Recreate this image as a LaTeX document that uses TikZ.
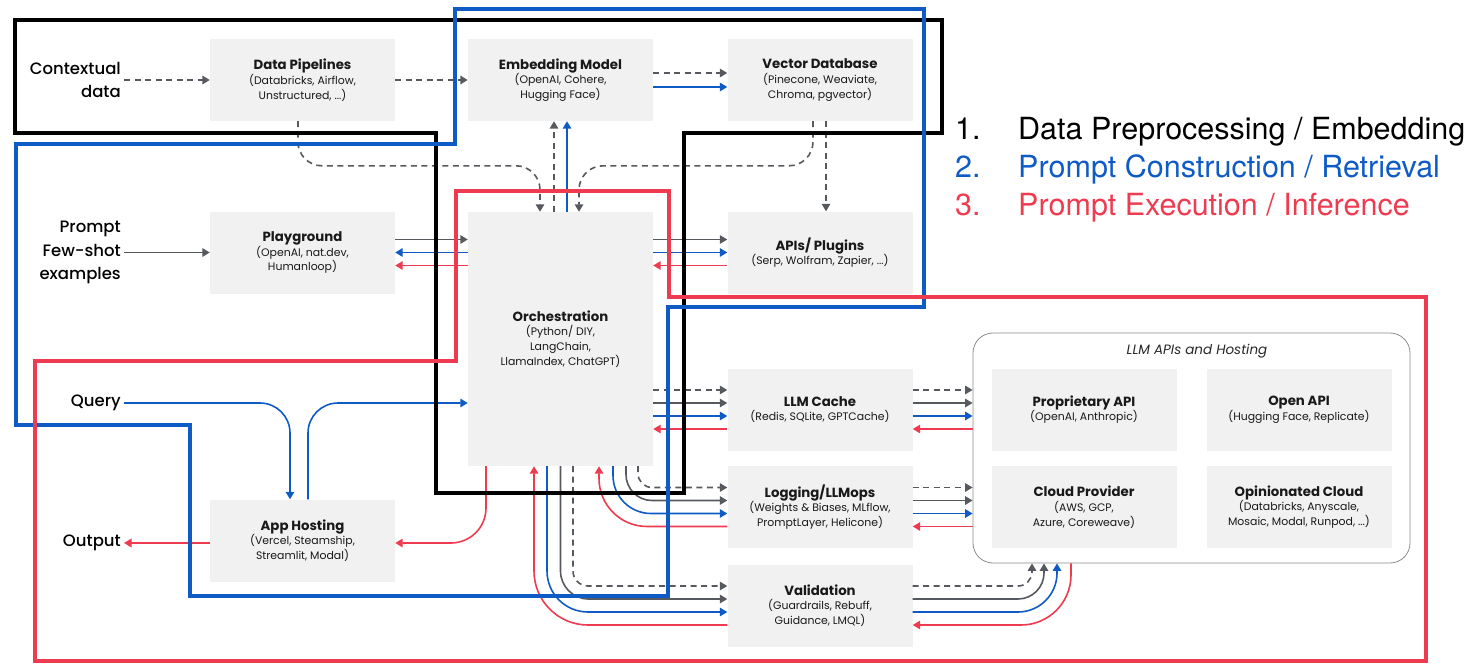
\documentclass[tikz,border=0pt]{standalone}
\usepackage{fontspec}
\setmainfont{Poppins}
\newfontfamily\sidefont{Poppins}[UprightFont=* Medium]
\newfontfamily\legendfont{TeX Gyre Heros}
\usetikzlibrary{arrows.meta}

\definecolor{boxgray}{HTML}{F1F1F1}
\definecolor{linegray}{HTML}{56595E}
\definecolor{stageblue}{HTML}{0F5BC6}
\definecolor{stagered}{HTML}{EF3B50}
\definecolor{framegray}{HTML}{8C8C8C}

\newcommand{\tname}[1]{{\fontsize{13.3}{14.5}\selectfont\bfseries #1}}

\tikzset{
  tool/.style={fill=boxgray, minimum width=185pt, minimum height=82pt, align=center, inner sep=0pt,
    text=black!90, font=\fontsize{10.9}{14.8}\selectfont},
  side/.style={font=\sidefont\fontsize{16.5}{23.5}\selectfont, align=right, anchor=east, inner sep=3pt},
  fwd/.style={-{Triangle[length=7.5pt,width=8.5pt]}},
  bwd/.style={{Triangle[length=7.5pt,width=8.5pt]}-},
  gline/.style={draw=linegray, line width=1.6pt},
  dline/.style={gline, dash pattern=on 6pt off 4.5pt},
  bline/.style={draw=stageblue, line width=1.6pt},
  rline/.style={draw=stagered, line width=1.6pt},
  stage/.style={line width=3.3pt},
  legend/.style={font=\legendfont\fontsize{30.5}{36}\selectfont, anchor=base west, inner sep=0pt},
}

\begin{document}
\begin{tikzpicture}[x=1pt, y=-1pt]
    \useasboundingbox (0,0) rectangle (1472,666);

    % tools
    \node[tool] (pipe) at (302.5,80) {\tname{Data Pipelines}\\(Databricks, Airflow,\\Unstructured, ...)};
    \node[tool] (emb) at (560.5,80) {\tname{Embedding Model}\\(OpenAI, Cohere,\\Hugging Face)};
    \node[tool] (vec) at (820,80) {\tname{Vector Database}\\(Pinecone, Weaviate,\\Chroma, pgvector)};
    \node[tool] (play) at (302.5,252.5) {\tname{Playground}\\(OpenAI, nat.dev,\\Humanloop)};
    \node[tool, minimum height=254pt] (orch) at (560.5,339) {\tname{Orchestration}\\(Python/ DIY,\\LangChain,\\LlamaIndex, ChatGPT)};
    \node[tool] (api) at (820,252.5) {\tname{APIs/ Plugins}\\(Serp, Wolfram, Zapier, ...)};
    \node[tool] (cache) at (820,409.5) {\tname{LLM Cache}\\(Redis, SQLite, GPTCache)};
    \node[tool] (log) at (820,507) {\tname{Logging/LLMops}\\(Weights \& Biases, MLflow,\\PromptLayer, Helicone)};
    \node[tool] (val) at (820,605.5) {\tname{Validation}\\(Guardrails, Rebuff,\\Guidance, LMQL)};
    \node[tool] (app) at (302.5,540.5) {\tname{App Hosting}\\(Vercel, Steamship,\\Streamlit, Modal)};

    % hosting
    \node[draw=framegray, line width=0.8pt, rounded corners=20pt, minimum width=437pt, minimum height=230pt, inner sep=0pt] (hosting) at (1191.5,448) {};
    \node[font=\fontsize{13.5}{15}\selectfont\itshape, text=black!85] (hostname) at (1197,351) {LLM APIs and Hosting};
    \node[tool] (prop) at (1084,409.5) {\tname{Proprietary API}\\(OpenAI, Anthropic)};
    \node[tool] (open) at (1299,409.5) {\tname{Open API}\\(Hugging Face, Replicate)};
    \node[tool] (cloud) at (1084,507) {\tname{Cloud Provider}\\(AWS, GCP,\\Azure, Coreweave)};
    \node[tool] (opin) at (1299,507) {\tname{Opinionated Cloud}\\(Databricks, Anyscale,\\Mosaic, Modal, Runpod, ...)};

    % inputs and output
    \node[side] (ctx) at (124,80) {Contextual\\data};
    \node[side] (prompt) at (124,252.5) {Prompt\\Few-shot\\examples};
    \node[side] (query) at (124,403) {Query};
    \node[side] (output) at (124,543) {Output};

    % top row
    \draw[dline, fwd] (ctx.east) -- (pipe.west);
    \draw[dline, fwd] (pipe.east) -- (emb.west);
    \draw[dline, fwd] ([yshift=7pt]emb.east) -- ([yshift=7pt]vec.west);
    \draw[bline, fwd] ([yshift=-7pt]emb.east) -- ([yshift=-7pt]vec.west);
    \draw[dline, fwd, rounded corners=24pt] ([xshift=-4.5pt]pipe.south) |- ([xshift=-20.5pt, yshift=46pt]orch.north) -- ([xshift=-20.5pt]orch.north);
    \draw[dline, fwd, rounded corners=24pt] ([xshift=-7pt]vec.south) |- ([xshift=18.5pt, yshift=46pt]orch.north) -- ([xshift=18.5pt]orch.north);
    \draw[dline, fwd] ([xshift=6pt]vec.south) -- ([xshift=6pt]api.north);
    \draw[dline, fwd] ([xshift=-6.5pt]orch.north) -- ([xshift=-6.5pt]emb.south);
    \draw[bline, fwd] ([xshift=6.5pt]orch.north) -- ([xshift=6.5pt]emb.south);

    % playground and plugins
    \draw[gline, fwd] (prompt.east) -- (play.west);
    \draw[gline, fwd] ([yshift=13pt]play.east) -- ([yshift=13pt]play.east -| orch.west);
    \draw[bline, bwd] (play.east) -- (play.east -| orch.west);
    \draw[rline, bwd] ([yshift=-13pt]play.east) -- ([yshift=-13pt]play.east -| orch.west);
    \draw[gline, fwd] ([yshift=13pt]api.west -| orch.east) -- ([yshift=13pt]api.west);
    \draw[bline, fwd] (api.west -| orch.east) -- (api.west);
    \draw[rline, bwd] ([yshift=-13pt]api.west -| orch.east) -- ([yshift=-13pt]api.west);

    % query, app hosting, output
    \draw[bline, fwd, rounded corners=30pt] (query.east) -| ([xshift=-12.5pt]app.north);
    \draw[bline, fwd, rounded corners=30pt] ([xshift=5.5pt]app.north) |- (query.east -| orch.west);
    \draw[rline, fwd, rounded corners=35pt] ([xshift=-74.5pt]orch.south) |- ([yshift=-2.5pt]app.east);
    \draw[rline, fwd] ([yshift=-2.5pt]app.west) -- (output.east);

    % cache
    \draw[dline, fwd] ([yshift=19.5pt]cache.west -| orch.east) -- ([yshift=19.5pt]cache.west);
    \draw[gline, fwd] ([yshift=6.5pt]cache.west -| orch.east) -- ([yshift=6.5pt]cache.west);
    \draw[bline, fwd] ([yshift=-6.5pt]cache.west -| orch.east) -- ([yshift=-6.5pt]cache.west);
    \draw[rline, bwd] ([yshift=-19.5pt]cache.west -| orch.east) -- ([yshift=-19.5pt]cache.west);
    \draw[dline, fwd] ([yshift=19.5pt]cache.east) -- ([yshift=19.5pt]cache.east -| hosting.west);
    \draw[gline, fwd] ([yshift=6.5pt]cache.east) -- ([yshift=6.5pt]cache.east -| hosting.west);
    \draw[bline, fwd] ([yshift=-6.5pt]cache.east) -- ([yshift=-6.5pt]cache.east -| hosting.west);
    \draw[rline, bwd] ([yshift=-19.5pt]cache.east) -- ([yshift=-19.5pt]cache.east -| hosting.west);

    % logging
    \draw[dline, fwd, rounded corners=14pt] ([xshift=77.5pt]orch.south) |- ([yshift=19.5pt]log.west);
    \draw[gline, fwd, rounded corners=26pt] ([xshift=65.5pt]orch.south) |- ([yshift=6.5pt]log.west);
    \draw[bline, fwd, rounded corners=38pt] ([xshift=52.5pt]orch.south) |- ([yshift=-6.5pt]log.west);
    \draw[rline, bwd, rounded corners=48pt] ([xshift=38.5pt]orch.south) |- ([yshift=-19.5pt]log.west);
    \draw[dline, fwd] ([yshift=19.5pt]log.east) -- ([yshift=19.5pt]log.east -| hosting.west);
    \draw[gline, fwd] ([yshift=6.5pt]log.east) -- ([yshift=6.5pt]log.east -| hosting.west);
    \draw[bline, fwd] ([yshift=-6.5pt]log.east) -- ([yshift=-6.5pt]log.east -| hosting.west);
    \draw[rline, bwd] ([yshift=-19.5pt]log.east) -- ([yshift=-19.5pt]log.east -| hosting.west);

    % validation
    \draw[dline, fwd, rounded corners=15pt] ([xshift=12.5pt]orch.south) |- ([yshift=19.5pt]val.west);
    \draw[gline, fwd, rounded corners=28pt] (orch.south) |- ([yshift=6.5pt]val.west);
    \draw[bline, fwd, rounded corners=41pt] ([xshift=-13.5pt]orch.south) |- ([yshift=-6.5pt]val.west);
    \draw[rline, bwd, rounded corners=54pt] ([xshift=-26.5pt]orch.south) |- ([yshift=-19.5pt]val.west);
    \draw[dline, fwd, rounded corners=14pt] ([yshift=19.5pt]val.east) -| ([xshift=-159.5pt]hosting.south);
    \draw[gline, fwd, rounded corners=26pt] ([yshift=6.5pt]val.east) -| ([xshift=-147.5pt]hosting.south);
    \draw[bline, fwd, rounded corners=39pt] ([yshift=-6.5pt]val.east) -| ([xshift=-134.5pt]hosting.south);
    \draw[rline, bwd, rounded corners=50pt] ([yshift=-19.5pt]val.east) -| ([xshift=-120.5pt]hosting.south);

    % stages
    \draw[stage] (15,20) -- (942,20) -- (942,133) -- (684,133) -- (684,493) -- (436,493) -- (436,133) -- (15,133) -- cycle;
    \draw[stage, stageblue] (455,9) -- (924,9) -- (924,307) -- (668,307) -- (668,596) -- (190,596) -- (190,425) -- (16,425) -- (16,144) -- (455,144) -- cycle;
    \draw[stage, stagered] (456,191) -- (669,191) -- (669,297) -- (1426,297) -- (1426,661) -- (35,661) -- (35,361) -- (456,361) -- cycle;

    % legend
    \node[legend] (num1) at (955,139.5) {1.};
    \node[legend] (leg1) at (1018,139.5) {Data Preprocessing / Embedding};
    \node[legend, text=stageblue] (num2) at (955,177.5) {2.};
    \node[legend, text=stageblue] (leg2) at (1018,177.5) {Prompt Construction / Retrieval};
    \node[legend, text=stagered] (num3) at (955,215.5) {3.};
    \node[legend, text=stagered] (leg3) at (1018,215.5) {Prompt Execution / Inference};
\end{tikzpicture}
\end{document}
